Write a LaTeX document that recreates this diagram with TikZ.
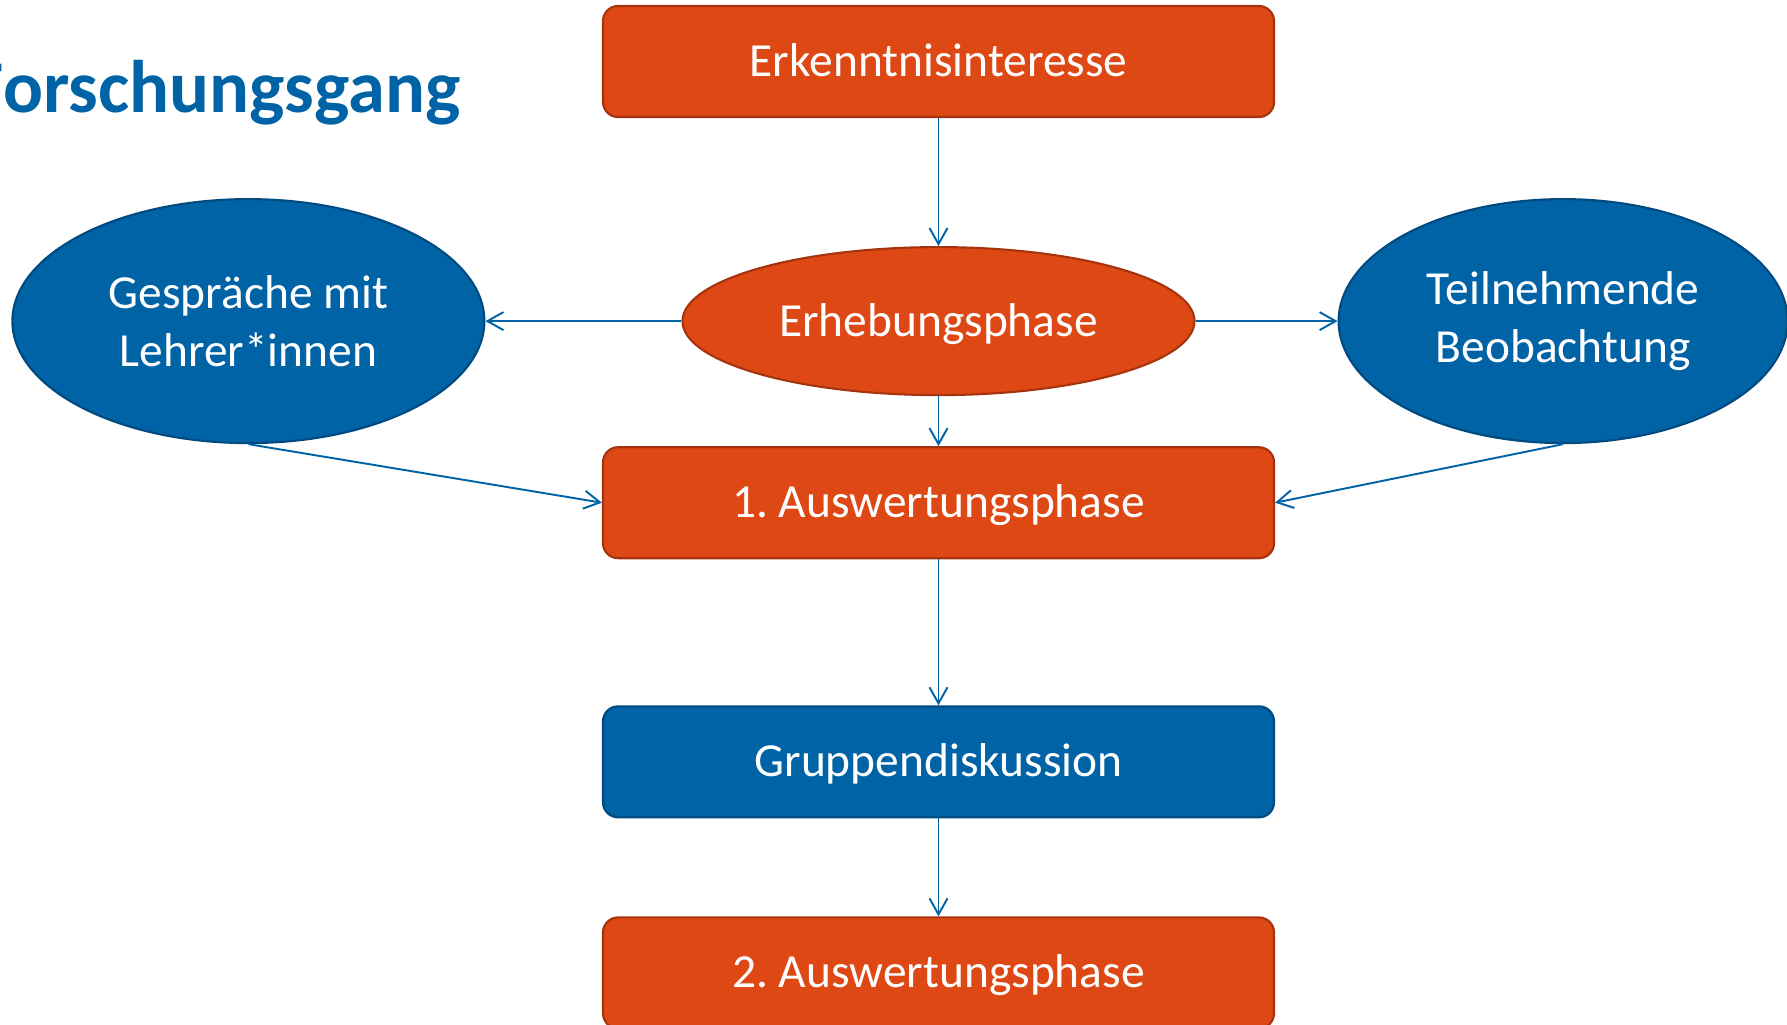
\documentclass[tikz,border=0pt]{standalone}
\usepackage{fontspec}
\setmainfont{Carlito}
\frenchspacing
\usetikzlibrary{shapes.geometric,positioning,arrows.meta}
\definecolor{rotorange}{RGB}{221,72,20}
\definecolor{rotrand}{RGB}{165,52,14}
\definecolor{unblau}{RGB}{0,99,166}
\definecolor{blaurand}{RGB}{0,74,128}
\tikzset{
	titel/.style={font=\bfseries\fontsize{21.2}{25}\selectfont, text=unblau,
		inner sep=0pt, anchor=base west},
	phase/.style={rectangle, rounded corners=1.5mm, fill=rotorange, draw=rotrand,
		line width=0.6pt, text=white, font=\fontsize{13.5}{16.5}\selectfont,
		minimum width=6.71cm, minimum height=1.11cm, text centered,
		text height=0.3cm, text depth=0pt},
	phaseblau/.style={phase, fill=unblau, draw=blaurand},
	erhebung/.style={ellipse, fill=rotorange, draw=rotrand, line width=0.6pt,
		text=white, font=\fontsize{13.5}{16.5}\selectfont, inner sep=0pt,
		minimum width=5.12cm, minimum height=1.48cm,
		text height=0.3cm, text depth=0pt},
	methode/.style={ellipse, fill=unblau, draw=blaurand, line width=0.6pt,
		text=white, font=\fontsize{13.5}{16.5}\selectfont, inner sep=0pt,
		minimum height=2.44cm, align=center},
	pfeil/.style={draw=unblau, line width=0.55pt,
		-{Straight Barb[length=1.6mm, width=1.8mm]}}
}

\begin{document}
\begin{tikzpicture}[node distance=0.5cm]
			\useasboundingbox (0,0) rectangle (17.87,-10.25);
			\clip (0,0) rectangle (17.87,-10.25);
			
			\node[titel] (kopf) at (-0.31,-1.13) {Forschungsgang};
			
			\node[phase] (erk) at (9.385,-0.615) {Erkenntnisinteresse};
			\node[erhebung, below=1.28cm of erk] (erh) {Erhebungsphase};
			\node[methode, minimum width=4.72cm, left=1.96cm of erh] (gesp) {Gespräche mit\\Lehrer*innen};
			\node[methode, minimum width=4.49cm, right=1.42cm of erh] (teil) {Teilnehmende\\Beobachtung};
			
			\node[phase, below=0.50cm of erh] (aus1) {1. Auswertungsphase};
			\node[phaseblau, below=1.46cm of aus1] (grp) {Gruppendiskussion};
			\node[phase, below=0.98cm of grp] (aus2) {2. Auswertungsphase};
			
			\draw[pfeil] (erk) -- (erh);
			\draw[pfeil] (erh) -- (gesp);
			\draw[pfeil] (erh) -- (teil);
			\draw[pfeil] (erh) -- (aus1);
			\draw[pfeil] (gesp.south) -- (aus1.west);
			\draw[pfeil] (teil.south) -- (aus1.east);
			\draw[pfeil] (aus1) -- (grp);
			\draw[pfeil] (grp) -- (aus2);
		\end{tikzpicture}
\end{document}
